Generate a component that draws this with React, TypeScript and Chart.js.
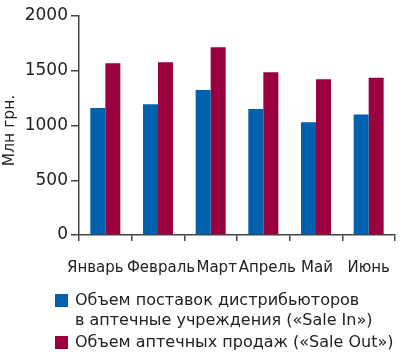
import React, { useEffect, useRef } from "react";
import { Chart, registerables } from "chart.js";

Chart.register(...registerables);

const categories = ["Январь", "Февраль", "Март", "Апрель", "Май", "Июнь"];
const saleIn = [1160, 1195, 1325, 1150, 1030, 1100];
const saleOut = [1568, 1578, 1715, 1487, 1423, 1437];
const seriesNames = [
  ["Объем поставок дистрибьюторов", "в аптечные учреждения («Sale In»)"],
  ["Объем аптечных продаж («Sale Out»)"],
];
const yTicks = [0, 500, 1000, 1500, 2000];
const yTitle = "Млн грн.";

const BLUE = "#0061ad";
const RED = "#9a0040";
const AXIS = "#444444";
const TEXT = "#222222";
const FONT = "'DejaVu Sans', sans-serif";
// horizontal nudges of the month labels, as in the original layout
const LABEL_SHIFT = [-10, 3, 6, 4, 1, 0];

const textPlugin = {
  id: "xLabels",
  afterDraw(chart: any) {
    const { ctx, scales, chartArea } = chart;
    const xs = scales.x;
    ctx.save();
    ctx.fillStyle = TEXT;
    ctx.font = `15px ${FONT}`;
    ctx.textAlign = "center";
    ctx.textBaseline = "middle";
    categories.forEach((c, i) => {
      ctx.fillText(c, xs.getPixelForValue(i) + LABEL_SHIFT[i], xs.top + 33);
    });
    ctx.restore();

    ctx.save();
    ctx.fillStyle = TEXT;
    ctx.font = `15.5px ${FONT}`;
    ctx.textAlign = "center";
    ctx.textBaseline = "middle";
    ctx.translate(10, (chartArea.top + chartArea.bottom) / 2 + 5);
    ctx.rotate(-Math.PI / 2);
    ctx.fillText(yTitle, 0, 0);
    ctx.restore();
  },
};

export default function App() {
  const ref = useRef<HTMLCanvasElement | null>(null);

  useEffect(() => {
    if (!ref.current) return;
    const chart = new Chart(ref.current, {
      type: "bar",
      data: {
        labels: categories,
        datasets: [
          { label: seriesNames[0].join(" "), data: saleIn, backgroundColor: BLUE },
          { label: seriesNames[1].join(" "), data: saleOut, backgroundColor: RED },
        ],
      },
      options: {
        animation: false,
        responsive: false,
        maintainAspectRatio: false,
        layout: { padding: { left: 0, top: 16, right: 5, bottom: 0 } },
        plugins: { legend: { display: false }, tooltip: { enabled: false } },
        datasets: { bar: { categoryPercentage: 0.57, barPercentage: 1 } },
        scales: {
          x: {
            grid: { display: true, drawOnChartArea: false, drawTicks: true, tickLength: 6, color: AXIS, lineWidth: 1.5 },
            border: { display: true, color: AXIS, width: 1.5 },
            ticks: { display: false },
            afterFit: (scale: any) => {
              scale.height = 356 - 235;
            },
          },
          y: {
            min: 0,
            max: 2000,
            afterBuildTicks: (scale: any) => {
              scale.ticks = yTicks.map((v) => ({ value: v }));
            },
            grid: { display: true, drawOnChartArea: false, drawTicks: true, tickLength: 8, color: AXIS, lineWidth: 1.5 },
            border: { display: true, color: AXIS, width: 1.5 },
            ticks: {
              color: TEXT,
              font: { family: FONT, size: 17 },
              padding: 3,
              callback: (v: any) => String(v),
            },
            title: { display: false },
            afterFit: (scale: any) => {
              scale.width = 79;
            },
          },
        },
      },
      plugins: [textPlugin],
    });
    return () => chart.destroy();
  }, []);

  const itemStyle: React.CSSProperties = {
    position: "absolute",
    left: 75,
    fontFamily: FONT,
    fontSize: 16,
    lineHeight: "20px",
    color: TEXT,
    whiteSpace: "nowrap",
  };
  const sq = (top: number, color: string): React.CSSProperties => ({
    position: "absolute",
    left: 55,
    top,
    width: 13,
    height: 13,
    background: color,
  });

  return (
    <div style={{ position: "fixed", left: 0, top: 0, width: 400, height: 356, background: "#fff" }}>
      <canvas ref={ref} width={400} height={356} style={{ position: "absolute", left: 0, top: 0, width: 400, height: 356 }} />
      <div style={sq(294, BLUE)} />
      <div style={{ ...itemStyle, top: 290 }}>
        {seriesNames[0].map((l, i) => (
          <div key={i}>{l}</div>
        ))}
      </div>
      <div style={sq(336, RED)} />
      <div style={{ ...itemStyle, top: 332 }}>
        {seriesNames[1].map((l, i) => (
          <div key={i}>{l}</div>
        ))}
      </div>
    </div>
  );
}
